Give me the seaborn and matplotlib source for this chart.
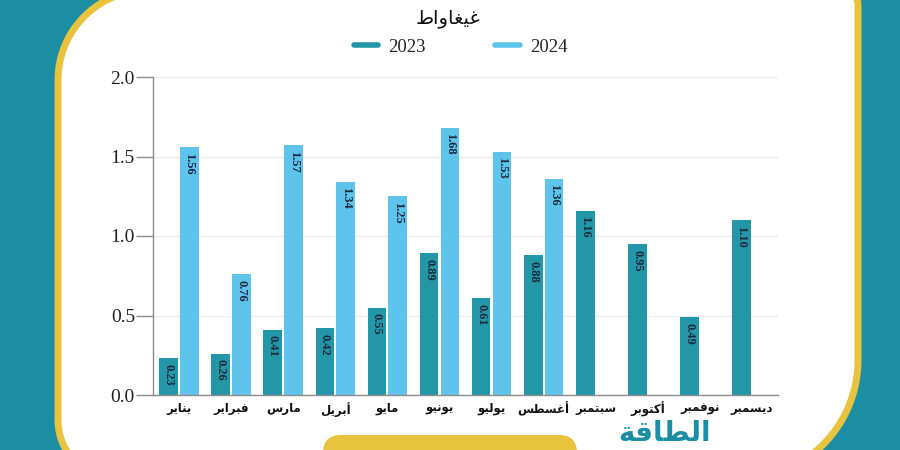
import numpy as np
import pandas as pd
import matplotlib
matplotlib.use("Agg")
import matplotlib.pyplot as plt
import seaborn as sns
from matplotlib.patches import Polygon, FancyBboxPatch
from matplotlib.lines import Line2D

# ---------------- data ----------------
months = ["يناير", "فبراير", "مارس", "أبريل", "مايو", "يونيو",
          "يوليو", "أغسطس", "سبتمبر", "أكتوبر", "نوفمبر", "ديسمبر"]
values_2023 = [0.23, 0.26, 0.41, 0.42, 0.55, 0.89, 0.61, 0.88, 1.16, 0.95, 0.49, 1.10]
values_2024 = [1.56, 0.76, 1.57, 1.34, 1.25, 1.68, 1.53, 1.36]
years = ["2023", "2024"]
yticks = [0.0, 0.5, 1.0, 1.5, 2.0]
unit_title = "غيغاواط"
logo_text = "الطاقة"

# ---------------- simple Arabic shaping (matplotlib has no shaping) ----------------
FORMS = {  # isolated, final, initial, medial
    "ا": ("\uFE8D", "\uFE8E", None, None),
    "أ": ("\uFE83", "\uFE84", None, None),
    "ب": ("\uFE8F", "\uFE90", "\uFE91", "\uFE92"),
    "ة": ("\uFE93", "\uFE94", None, None),
    "ت": ("\uFE95", "\uFE96", "\uFE97", "\uFE98"),
    "د": ("\uFEA9", "\uFEAA", None, None),
    "ر": ("\uFEAD", "\uFEAE", None, None),
    "س": ("\uFEB1", "\uFEB2", "\uFEB3", "\uFEB4"),
    "ط": ("\uFEC1", "\uFEC2", "\uFEC3", "\uFEC4"),
    "غ": ("\uFECD", "\uFECE", "\uFECF", "\uFED0"),
    "ف": ("\uFED1", "\uFED2", "\uFED3", "\uFED4"),
    "ق": ("\uFED5", "\uFED6", "\uFED7", "\uFED8"),
    "ك": ("\uFED9", "\uFEDA", "\uFEDB", "\uFEDC"),
    "ل": ("\uFEDD", "\uFEDE", "\uFEDF", "\uFEE0"),
    "م": ("\uFEE1", "\uFEE2", "\uFEE3", "\uFEE4"),
    "ن": ("\uFEE5", "\uFEE6", "\uFEE7", "\uFEE8"),
    "و": ("\uFEED", "\uFEEE", None, None),
    "ي": ("\uFEF1", "\uFEF2", "\uFEF3", "\uFEF4"),
}


def shape(word):
    out = []
    n = len(word)
    for i, ch in enumerate(word):
        if ch not in FORMS:
            out.append(ch)
            continue
        f = FORMS[ch]
        prev = word[i - 1] if i > 0 else None
        nxt = word[i + 1] if i < n - 1 else None
        jp = prev is not None and prev in FORMS and FORMS[prev][2] is not None
        jn = f[2] is not None and nxt is not None and nxt in FORMS
        if jp and jn:
            out.append(f[3])
        elif jp:
            out.append(f[1])
        elif jn:
            out.append(f[2])
        else:
            out.append(f[0])
    return "".join(reversed(out))


# ---------------- styling ----------------
sns.set_style("white")
plt.rcParams["font.family"] = ["Liberation Serif", "DejaVu Sans"]

TEAL_BG = "#1b8ea3"
YELLOW = "#e8c33d"
C2023 = "#2397a7"
C2024 = "#5ec4ec"
LABEL_C = "#1c2a40"
GRID_C = "#ececec"
AXIS_C = "#8c8c8c"

fig = plt.figure(figsize=(9, 4.5), dpi=100)
fig.patch.set_facecolor(TEAL_BG)

# decoration layer in pixel coordinates
deco = fig.add_axes([0, 0, 1, 1], zorder=0)
deco.set_xlim(0, 900)
deco.set_ylim(450, 0)
deco.axis("off")


def arc(cx, cy, r, a0, a1, n=40):
    t = np.radians(np.linspace(a0, a1, n))
    return np.column_stack([cx + r * np.cos(t), cy + r * np.sin(t)])


L, R, T, B = 58, 858, -10, 480
r1, r2, r3, r4 = 90, 15, 120, 60
pts = np.vstack([
    arc(L + r1, T + r1, r1, 180, 270),
    arc(R - r2, T + r2, r2, 270, 360),
    arc(R - r3, B - r3, r3, 0, 90),
    arc(L + r4, B - r4, r4, 90, 180),
])
deco.add_patch(Polygon(pts, closed=True, facecolor="white", edgecolor=YELLOW,
                       linewidth=5, clip_on=False))
deco.add_patch(FancyBboxPatch((323, 435), 254, 40,
                              boxstyle="round,pad=0,rounding_size=18",
                              facecolor=YELLOW, edgecolor="none"))
deco.text(665, 447, shape(logo_text), ha="center", va="bottom", fontsize=20,
          fontweight="bold", color=TEAL_BG, family="DejaVu Sans")

# ---------------- main chart ----------------
ax = fig.add_axes([153 / 900, 1 - 395 / 450, (778 - 153) / 900, (395 - 77) / 450], zorder=1)
ax.set_facecolor("none")

rows = []
for m, v in zip(months, values_2023):
    rows.append({"month": m, "year": "2023", "value": v})
for m, v in zip(months, values_2024):
    rows.append({"month": m, "year": "2024", "value": v})
df = pd.DataFrame(rows)

sns.barplot(data=df, x="month", y="value", hue="year", order=months,
            hue_order=years, palette=[C2023, C2024], width=0.8, gap=0.1,
            saturation=1, legend=False, ax=ax, errorbar=None, zorder=2,
            edgecolor="none", linewidth=0)

# value labels inside top of bars
for cont, vals in zip(ax.containers, [values_2023, values_2024]):
    for bar, v in zip(cont, vals):
        xc = bar.get_x() + bar.get_width() / 2
        ax.annotate(f"{v:.2f}", (xc, bar.get_height()), xytext=(0, -4),
                    textcoords="offset points", rotation=270, ha="center",
                    va="top", fontsize=9, fontweight="bold", color=LABEL_C,
                    family="Liberation Serif", zorder=3)

ax.set_xlim(-0.5, len(months) - 0.5)
ax.set_ylim(0, 2.0)
ax.set_yticks(yticks)
ax.set_yticklabels([f"{t:.1f}" for t in yticks], fontsize=14,
                   family="Liberation Serif", color="#222222")
ax.yaxis.grid(True, color=GRID_C, linewidth=1, zorder=0)
ax.set_axisbelow(True)

ax.set_xticks(range(len(months)))
ax.set_xticklabels([shape(m) for m in months], family="DejaVu Sans",
                   fontsize=8.5, fontweight="bold", color="#111111")
ax.set_xticks(np.arange(-0.5, len(months), 1.0), minor=True)
ax.tick_params(axis="x", which="major", length=0, pad=5)
ax.tick_params(axis="x", which="minor", length=7, width=1, color=AXIS_C, direction="out")
ax.tick_params(axis="y", which="major", length=12, width=1, color=AXIS_C,
               direction="out", pad=1, left=True)
ax.set_xlabel("")
ax.set_ylabel("")
for s in ["top", "right"]:
    ax.spines[s].set_visible(False)
for s in ["left", "bottom"]:
    ax.spines[s].set_color(AXIS_C)
    ax.spines[s].set_linewidth(1)

# title & legend
fig.text(0.498, 1 - 18 / 450, shape(unit_title), ha="center", va="center",
         fontsize=14, family="DejaVu Sans", color="#111111")
handles = [Line2D([0], [0], color=C2023, lw=4),
           Line2D([0], [0], color=C2024, lw=4)]
fig.legend(handles, years, loc="center", bbox_to_anchor=(0.512, 1 - 47 / 450),
           ncol=2, frameon=False, handlelength=1.3,
           handletextpad=0.55, columnspacing=3.7,
           prop={"family": "Liberation Serif", "size": 13.5})

fig.savefig("out.png", dpi=100, facecolor=fig.get_facecolor())
